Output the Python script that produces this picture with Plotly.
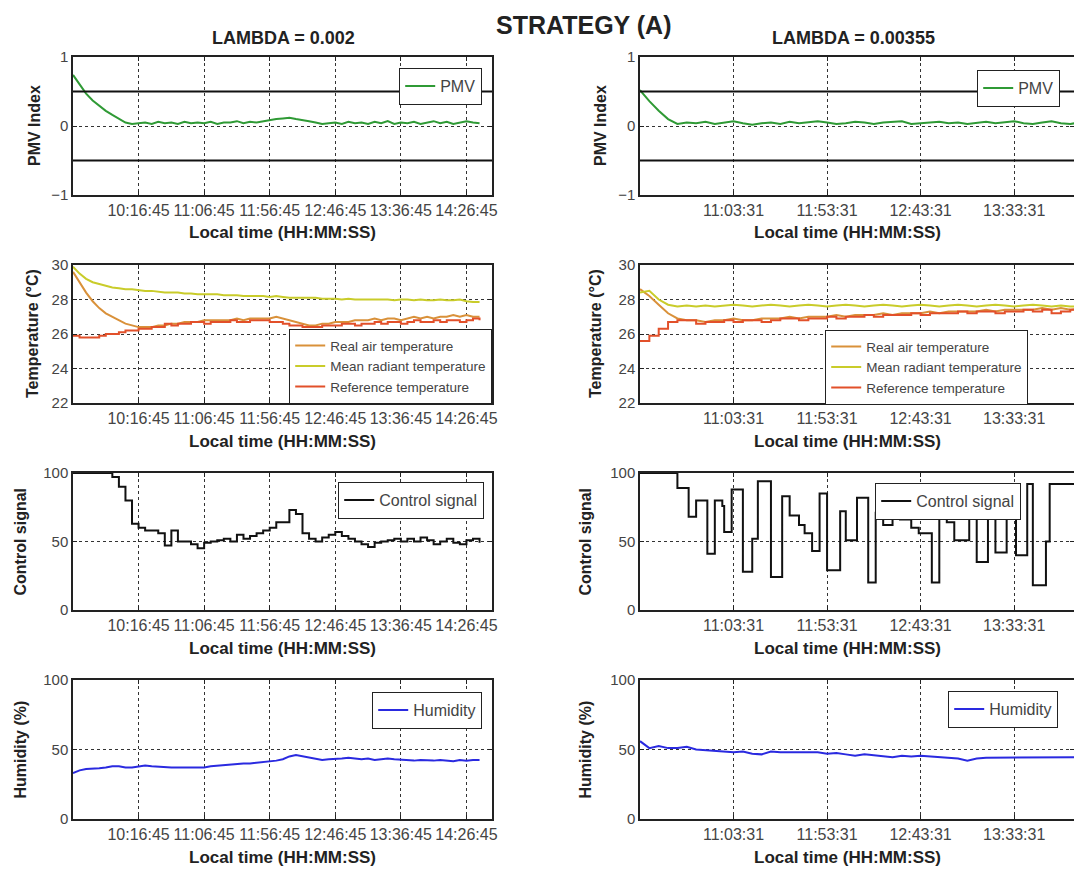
import plotly.graph_objects as go
from datetime import datetime, timedelta

# ---------------- data ----------------
left_start = "2000-01-01 09:26:45"
left_end = "2000-01-01 14:46:15"
right_start = "2000-01-01 10:13:31"
right_end = "2000-01-01 14:05:31"
step_min = 5  # sampling of the hand-read series (minutes)

left_tick_labels = ["10:16:45", "11:06:45", "11:56:45", "12:46:45", "13:36:45", "14:26:45"]
right_tick_labels = ["11:03:31", "11:53:31", "12:43:31", "13:33:31"]

pmv_left = [0.74, 0.60, 0.47, 0.37, 0.29, 0.22, 0.16, 0.10, 0.05, 0.03, 0.04, 0.05, 0.03, 0.06, 0.04, 0.05,
            0.03, 0.06, 0.04, 0.05, 0.04, 0.06, 0.03, 0.05, 0.05, 0.07, 0.04, 0.06, 0.05, 0.07, 0.08, 0.10,
            0.11, 0.12, 0.10, 0.09, 0.07, 0.05, 0.03, 0.04, 0.05, 0.03, 0.06, 0.04, 0.05, 0.03, 0.06, 0.04,
            0.07, 0.03, 0.05, 0.04, 0.06, 0.03, 0.05, 0.07, 0.04, 0.06, 0.03, 0.05, 0.07, 0.05, 0.04]
pmv_right = [0.52, 0.36, 0.22, 0.10, 0.03, 0.05, 0.04, 0.06, 0.03, 0.05, 0.07, 0.04, 0.02, 0.04, 0.05, 0.03,
             0.06, 0.04, 0.05, 0.07, 0.05, 0.03, 0.04, 0.06, 0.05, 0.03, 0.05, 0.06, 0.07, 0.03, 0.04, 0.05,
             0.06, 0.04, 0.05, 0.03, 0.05, 0.06, 0.04, 0.05, 0.07, 0.04, 0.03, 0.05, 0.07, 0.04, 0.03, 0.05]
pmv_limits = [0.5, -0.5]

air_left = [29.6, 29.0, 28.4, 27.9, 27.5, 27.2, 27.0, 26.8, 26.6, 26.5, 26.4, 26.4, 26.4, 26.5, 26.5, 26.6,
            26.6, 26.7, 26.7, 26.7, 26.8, 26.8, 26.8, 26.8, 26.8, 26.9, 26.8, 26.9, 26.9, 26.9, 26.9, 27.0,
            26.9, 26.8, 26.7, 26.6, 26.5, 26.5, 26.6, 26.6, 26.7, 26.7, 26.7, 26.8, 26.8, 26.8, 26.9, 26.8,
            26.9, 26.9, 26.8, 26.9, 27.0, 26.9, 27.0, 26.9, 27.0, 27.0, 27.1, 27.0, 27.1, 27.0, 27.0]
mrt_left = [29.9, 29.5, 29.2, 29.0, 28.9, 28.8, 28.7, 28.65, 28.6, 28.6, 28.55, 28.5, 28.5, 28.45, 28.4, 28.4,
            28.4, 28.35, 28.35, 28.3, 28.3, 28.3, 28.3, 28.25, 28.25, 28.25, 28.2, 28.2, 28.2, 28.2, 28.15, 28.2,
            28.15, 28.1, 28.1, 28.1, 28.1, 28.1, 28.05, 28.05, 28.05, 28.0, 28.05, 28.0, 28.0, 28.0, 28.0, 28.0,
            28.0, 27.95, 28.0, 28.0, 27.95, 28.0, 27.95, 27.95, 28.0, 27.95, 27.95, 28.0, 27.9, 27.85, 27.85]
ref_left = [25.9, 25.8, 25.8, 25.8, 25.9, 26.0, 26.0, 26.1, 26.2, 26.2, 26.3, 26.3, 26.4, 26.4, 26.6, 26.5,
            26.6, 26.6, 26.7, 26.7, 26.6, 26.7, 26.7, 26.7, 26.8, 26.7, 26.7, 26.8, 26.8, 26.8, 26.7, 26.7,
            26.6, 26.5, 26.5, 26.4, 26.4, 26.4, 26.5, 26.5, 26.5, 26.6, 26.6, 26.5, 26.6, 26.6, 26.7, 26.6,
            26.7, 26.7, 26.6, 26.7, 26.8, 26.7, 26.7, 26.8, 26.7, 26.8, 26.8, 26.7, 26.8, 26.9, 26.8]

air_right = [28.6, 28.2, 27.7, 27.2, 26.9, 26.8, 26.8, 26.7, 26.8, 26.8, 26.9, 26.8, 26.8, 26.9, 26.9, 26.9,
             27.0, 26.9, 27.0, 27.0, 27.0, 27.1, 27.0, 27.1, 27.1, 27.1, 27.2, 27.1, 27.2, 27.2, 27.2, 27.3,
             27.2, 27.3, 27.3, 27.3, 27.3, 27.4, 27.3, 27.4, 27.4, 27.4, 27.4, 27.5, 27.4, 27.5, 27.4, 27.5]
mrt_right = [28.4, 28.5, 28.0, 27.7, 27.6, 27.65, 27.6, 27.65, 27.6, 27.65, 27.7, 27.65, 27.6, 27.65, 27.7, 27.65,
             27.6, 27.65, 27.7, 27.65, 27.6, 27.65, 27.7, 27.65, 27.6, 27.65, 27.7, 27.65, 27.6, 27.65, 27.7, 27.65,
             27.6, 27.65, 27.7, 27.65, 27.6, 27.65, 27.7, 27.65, 27.6, 27.65, 27.7, 27.65, 27.6, 27.65, 27.6, 27.6]
ref_right = [25.6, 25.9, 26.3, 26.7, 26.8, 26.8, 26.6, 26.7, 26.7, 26.8, 26.7, 26.8, 26.8, 26.7, 26.8, 26.9,
             26.9, 26.8, 26.9, 26.9, 27.0, 26.9, 27.0, 27.0, 27.1, 27.0, 27.1, 27.1, 27.1, 27.2, 27.1, 27.2,
             27.2, 27.2, 27.3, 27.2, 27.3, 27.3, 27.2, 27.3, 27.3, 27.4, 27.3, 27.4, 27.2, 27.3, 27.4, 27.3]

ctrl_left = [100, 100, 100, 100, 100, 100, 97, 90, 80, 63, 60, 58, 58, 56, 47, 58,
             50, 50, 48, 45, 49, 50, 51, 52, 50, 55, 52, 54, 56, 58, 60, 64,
             64, 73, 70, 56, 52, 50, 53, 55, 57, 54, 52, 50, 48, 46, 49, 50,
             51, 52, 50, 52, 50, 53, 51, 48, 50, 52, 49, 48, 51, 52, 49]
ctrl_right_t = [0, 20, 26, 30, 36, 40, 44, 45, 49, 55, 60, 63, 70, 76, 80, 85, 88, 92, 96, 100, 107, 110,
                116, 122, 126, 130, 135, 139, 145, 149, 156, 160, 164, 168, 176, 180, 186, 190, 196, 201,
                207, 210, 217, 219, 235]
ctrl_right = [100, 89, 68, 80, 41, 80, 76, 57, 88, 28, 52, 94, 24, 83, 69, 62, 56, 43, 85, 29, 72, 51,
              82, 20, 71, 62, 70, 66, 60, 56, 20, 68, 64, 51, 74, 35, 68, 42, 69, 40,
              92, 18, 50, 92, 92]

hum_left = [33, 35, 36, 36, 36.5, 37, 38, 38, 37, 37, 37.5, 38.5, 38, 37.5, 37, 37,
            37, 37, 37, 37, 37, 38, 38.5, 39, 39, 39.5, 40, 40, 40.5, 41, 41, 42,
            43, 45, 46, 45, 44, 43, 42.5, 43, 43, 43.5, 44, 43.5, 43, 43.5, 42.5, 43,
            43.5, 43, 42.5, 42.5, 42, 42.5, 42, 42, 42.5, 42, 41.5, 42.5, 42, 42.5, 42.5]
hum_right = [56, 51, 52.5, 51, 51, 52, 50, 49.5, 49.5, 48.5, 48, 48.5, 47, 46.5, 48.5, 48,
             48, 47.5, 47.5, 48, 47, 47.5, 46.5, 45.5, 46.5, 46, 45, 44.5, 45.5, 45, 45.5, 45,
             44.5, 44, 43.5, 42, 43.5, 44, 44, 44, 44, 44.5, 44, 44, 44.5, 44.5, 44.5, 44.5]

# ---------------- helpers ----------------
FMT = "%Y-%m-%d %H:%M:%S"


def time_grid(start, n):
    t0 = datetime.strptime(start, FMT)
    return [(t0 + timedelta(minutes=step_min * i)).strftime(FMT) for i in range(n)]


def time_at(start, minutes):
    t0 = datetime.strptime(start, FMT)
    return [(t0 + timedelta(minutes=m)).strftime(FMT) for m in minutes]


def tick_dates(labels):
    return ["2000-01-01 " + s for s in labels]


FONT = "Liberation Sans, Arial, sans-serif"
C_PMV = "#2f9a35"
C_AIR = "#d9913a"
C_MRT = "#c9cc2a"
C_REF = "#e2502a"
C_CTRL = "#111111"
C_HUM = "#2a2ae0"

W, H = 1074, 869
xdom = {1: [73 / W, 492 / W], 2: [640 / W, 1.0]}
rows_px = {1: (57, 195), 2: (265, 403), 3: (473, 610), 4: (680, 819)}
ydom = {r: [1 - b / H, 1 - t / H] for r, (t, b) in rows_px.items()}
xranges = {1: [left_start, left_end], 2: [right_start, right_end]}
xticks = {1: left_tick_labels, 2: right_tick_labels}
yranges = {1: [-1, 1], 2: [22, 30], 3: [0, 100], 4: [0, 100]}
yticks = {1: [-1, 0, 1], 2: [22, 24, 26, 28, 30], 3: [0, 50, 100], 4: [0, 50, 100]}
ytitles = {1: "PMV Index", 2: "Temperature (\u00b0C)", 3: "Control signal", 4: "Humidity (%)"}
ytitle_x = {(1, 1): 34, (2, 1): 32, (3, 1): 20, (4, 1): 20,
            (1, 2): 600, (2, 2): 595, (3, 2): 585, (4, 2): 585}

fig = go.Figure()


def ax(n):
    return ("x" if n == 1 else f"x{n}"), ("y" if n == 1 else f"y{n}")


def legname(n):
    return "legend" if n == 1 else f"legend{n}"


lt = time_grid(left_start, len(pmv_left))
rt = time_grid(right_start, len(pmv_right))
series = {
    (1, 1): [("PMV", lt, pmv_left, C_PMV, "linear")],
    (1, 2): [("PMV", rt, pmv_right, C_PMV, "linear")],
    (2, 1): [("Real air temperature", lt, air_left, C_AIR, "linear"),
             ("Mean radiant temperature", lt, mrt_left, C_MRT, "linear"),
             ("Reference temperature", lt, ref_left, C_REF, "hv")],
    (2, 2): [("Real air temperature", rt, air_right, C_AIR, "linear"),
             ("Mean radiant temperature", rt, mrt_right, C_MRT, "linear"),
             ("Reference temperature", rt, ref_right, C_REF, "hv")],
    (3, 1): [("Control signal", time_grid(left_start, len(ctrl_left)), ctrl_left, C_CTRL, "hv")],
    (3, 2): [("Control signal", time_at(right_start, ctrl_right_t), ctrl_right, C_CTRL, "hv")],
    (4, 1): [("Humidity", time_grid(left_start, len(hum_left)), hum_left, C_HUM, "linear")],
    (4, 2): [("Humidity", time_grid(right_start, len(hum_right)), hum_right, C_HUM, "linear")],
}

layout = dict(width=W, height=H, margin=dict(l=0, r=0, t=0, b=0, autoexpand=False),
              paper_bgcolor="white", plot_bgcolor="white", showlegend=True,
              font=dict(family=FONT, color="#333"))
annotations = []
shapes = []

legend_pos = {
    (1, 1): dict(x=482 / W, xanchor="right", y=1 - 68 / H, fs=16),
    (1, 2): dict(x=1060 / W, xanchor="right", y=1 - 70 / H, fs=16),
    (2, 1): dict(x=492 / W, xanchor="right", y=1 - 329 / H, fs=13.5),
    (2, 2): dict(x=825 / W, xanchor="left", y=1 - 330 / H, fs=13.5),
    (3, 1): dict(x=484 / W, xanchor="right", y=1 - 482 / H, fs=16),
    (3, 2): dict(x=875 / W, xanchor="left", y=1 - 483 / H, fs=16),
    (4, 1): dict(x=482 / W, xanchor="right", y=1 - 692 / H, fs=16),
    (4, 2): dict(x=1058 / W, xanchor="right", y=1 - 691 / H, fs=16),
}

for r in range(1, 5):
    for c in range(1, 3):
        n = (r - 1) * 2 + c
        xa, ya = ax(n)
        for name, xs, ys, col, shape in series[(r, c)]:
            fig.add_trace(go.Scatter(x=xs, y=ys, mode="lines", name=name,
                                     line=dict(color=col, width=2, shape=shape),
                                     xaxis=xa, yaxis=ya, legend=legname(n)))
        xkey = "xaxis" if n == 1 else f"xaxis{n}"
        ykey = "yaxis" if n == 1 else f"yaxis{n}"
        layout[xkey] = dict(domain=xdom[c], anchor=ya, type="date", range=xranges[c],
                            tickmode="array", tickvals=tick_dates(xticks[c]), ticktext=xticks[c],
                            showgrid=True, gridcolor="#333", griddash="dot", gridwidth=1,
                            showline=True, mirror="ticks", linecolor="#222", linewidth=1.5,
                            ticks="inside", ticklen=4, tickcolor="#222", automargin=False,
                            tickfont=dict(size=16, color="#444", family=FONT), zeroline=False)
        layout[ykey] = dict(domain=ydom[r], anchor=xa, range=yranges[r],
                            tickmode="array", tickvals=yticks[r],
                            showgrid=True, gridcolor="#333", griddash="dot", gridwidth=1,
                            showline=True, mirror="ticks", linecolor="#222", linewidth=1.5,
                            ticks="inside", ticklen=4, tickcolor="#222", automargin=False,
                            tickfont=dict(size=15, color="#444", family=FONT), zeroline=False)
        lp = legend_pos[(r, c)]
        layout[legname(n)] = dict(x=lp["x"], y=lp["y"], xanchor=lp["xanchor"], yanchor="top",
                                  bgcolor="white", bordercolor="#222", borderwidth=1.2,
                                  font=dict(size=lp["fs"], family=FONT, color="#444"),
                                  itemwidth=30, tracegroupgap=0)
        xc = sum(xdom[c]) / 2 if c == 1 else 847 / W
        annotations.append(dict(text="<b>Local time (HH:MM:SS)</b>", xref="paper", yref="paper",
                                x=xc, y=1 - (rows_px[r][1] + 38) / H, xanchor="center", yanchor="middle",
                                showarrow=False, font=dict(size=17, family=FONT, color="#222")))
        annotations.append(dict(text=f"<b>{ytitles[r]}</b>", xref="paper", yref="paper",
                                x=ytitle_x[(r, c)] / W, y=sum(ydom[r]) / 2, xanchor="center",
                                yanchor="middle", textangle=-90, showarrow=False,
                                font=dict(size=16, family=FONT, color="#222")))
        if r == 1:
            for lim in pmv_limits:
                shapes.append(dict(type="line", xref=f"{xa} domain", yref=ya, x0=0, x1=1,
                                   y0=lim, y1=lim, line=dict(color="#111", width=2)))

annotations.append(dict(text="<b>STRATEGY (A)</b>", xref="paper", yref="paper", x=583 / W, y=1 - 25 / H,
                        xanchor="center", yanchor="middle", showarrow=False,
                        font=dict(size=25, family=FONT, color="#222")))
annotations.append(dict(text="<b>LAMBDA = 0.002</b>", xref="paper", yref="paper", x=283 / W, y=1 - 38 / H,
                        xanchor="center", yanchor="middle", showarrow=False,
                        font=dict(size=18, family=FONT, color="#222")))
annotations.append(dict(text="<b>LAMBDA = 0.00355</b>", xref="paper", yref="paper", x=853 / W, y=1 - 38 / H,
                        xanchor="center", yanchor="middle", showarrow=False,
                        font=dict(size=18, family=FONT, color="#222")))
layout["annotations"] = annotations
layout["shapes"] = shapes
fig.update_layout(**layout)
fig.write_html("out.html", config={"displayModeBar": False},
               post_script="document.body.style.margin='0';document.body.style.overflow='hidden';")
